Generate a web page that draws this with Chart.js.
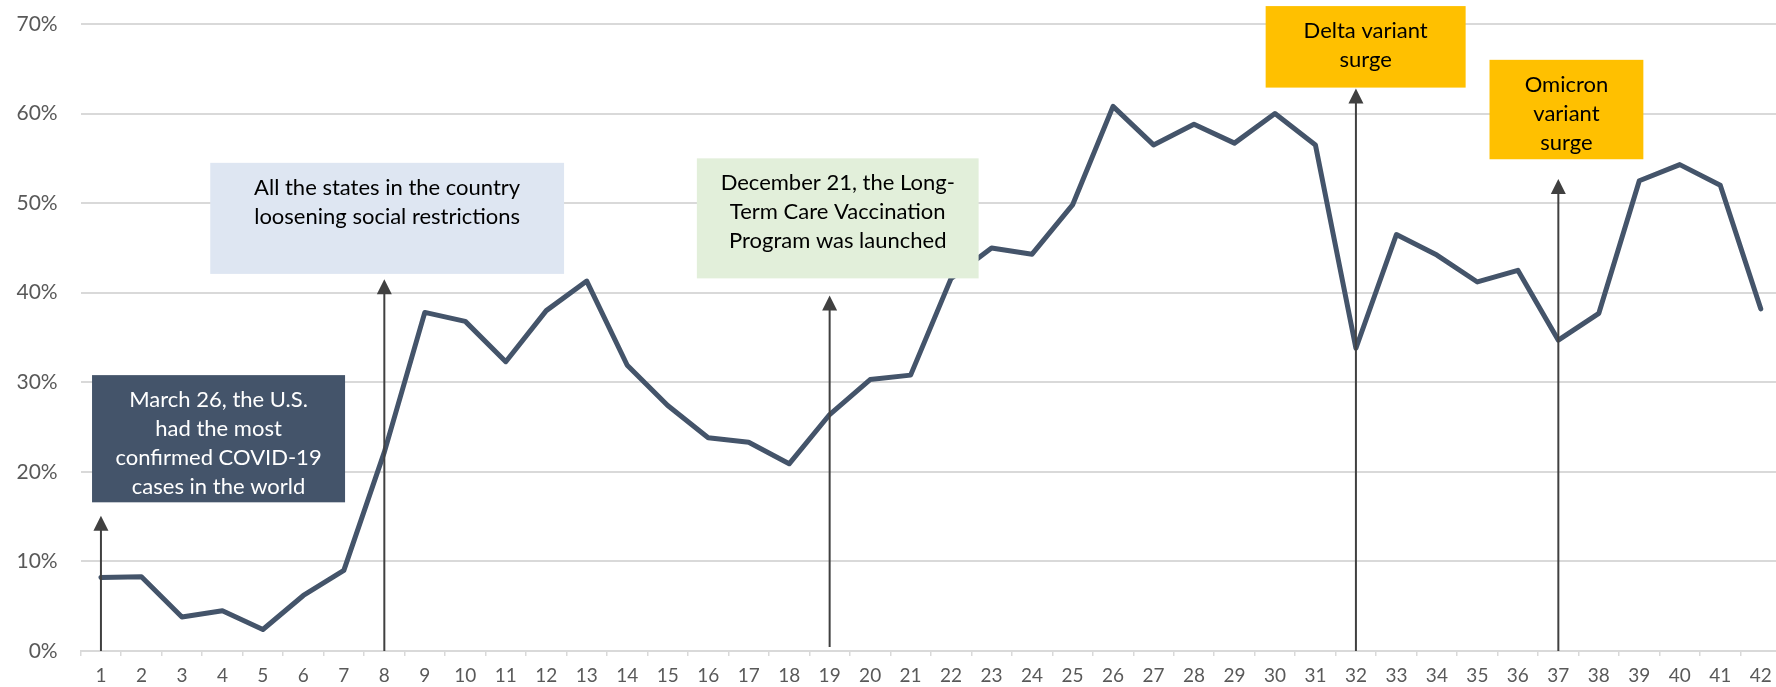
<!DOCTYPE html>
<html>
<head>
<meta charset="utf-8">
<script src="https://cdn.jsdelivr.net/npm/chart.js@4"></script>
<style>
  html, body { margin: 0; padding: 0; background: #fff; overflow: hidden; }
  #wrap { position: relative; width: 1800px; height: 687px; }
</style>
</head>
<body>
<div id="wrap"><canvas id="grafico"></canvas></div>
<script>
// categorias do eixo x
const semanas = ['1','2','3','4','5','6','7','8','9','10','11','12','13','14','15','16','17','18','19','20','21',
  '22','23','24','25','26','27','28','29','30','31','32','33','34','35','36','37','38','39','40','41','42'];

// valores da série (%)
const valores = [8.2, 8.3, 3.8, 4.5, 2.4, 6.2, 9.0, 22.2, 37.8, 36.8, 32.3, 38.0, 41.3, 31.9, 27.4, 23.8, 23.3, 20.9,
  26.4, 30.3, 30.8, 41.6, 45.0, 44.3, 49.8, 60.8, 56.5, 58.8, 56.7, 60.0, 56.5, 33.8, 46.5, 44.2, 41.2, 42.5, 34.7,
  37.7, 52.5, 54.3, 52.0, 38.2];

// ticks do eixo y
const ticksY = [0, 10, 20, 30, 40, 50, 60, 70];

// textos das anotações
const textos = [
  ['March 26, the U.S.', 'had the most', 'confirmed COVID-19', 'cases in the world'],
  ['All the states in the country', 'loosening social restrictions'],
  ['December 21, the Long-', 'Term Care Vaccination', 'Program was launched'],
  ['Delta variant', 'surge'],
  ['Omicron', 'variant', 'surge']
];

// caixas (em unidades dos eixos: índice da categoria e %)
const caixas = [
  { x0: -0.22, x1: 6.03, topo: 30.8, base: 16.6, fundo: '#44546A', cor: '#FFFFFF' },
  { x0: 2.70, x1: 11.44, topo: 54.5, base: 42.1, fundo: '#DEE6F2', cor: '#000000' },
  { x0: 14.72, x1: 21.68, topo: 55.0, base: 41.6, fundo: '#E2EFDA', cor: '#000000' },
  { x0: 28.77, x1: 33.71, topo: 72.0, base: 62.9, fundo: '#FFC000', cor: '#000000' },
  { x0: 34.30, x1: 38.10, topo: 66.0, base: 54.9, fundo: '#FFC000', cor: '#000000' }
];

// setas (índice da categoria, de / até em %)
const setas = [
  { idx: 0, de: 0, ate: 15.1 },
  { idx: 7, de: 0, ate: 41.5 },
  { idx: 18, de: 0.45, ate: 39.7 },
  { idx: 31, de: 0, ate: 62.8 },
  { idx: 36, de: 0, ate: 52.7 }
];

const anotacoes = {
  id: 'anotacoes',
  afterDatasetsDraw(chart) {
    const { ctx, scales: { x, y } } = chart;
    ctx.save();

    // setas
    ctx.strokeStyle = '#404040';
    ctx.fillStyle = '#404040';
    ctx.lineWidth = 2;
    setas.forEach(s => {
      const px = x.getPixelForValue(s.idx);
      const y0 = y.getPixelForValue(s.de);
      const y1 = y.getPixelForValue(s.ate);
      ctx.beginPath();
      ctx.moveTo(px, y0);
      ctx.lineTo(px, y1 + 12);
      ctx.stroke();
      ctx.beginPath();
      ctx.moveTo(px, y1);
      ctx.lineTo(px - 7.5, y1 + 15);
      ctx.lineTo(px + 7.5, y1 + 15);
      ctx.closePath();
      ctx.fill();
    });

    // caixas com texto
    ctx.font = '22px Lato';
    ctx.textAlign = 'center';
    ctx.textBaseline = 'middle';
    caixas.forEach((c, i) => {
      const left = x.getPixelForValue(c.x0);
      const right = x.getPixelForValue(c.x1);
      const top = y.getPixelForValue(c.topo);
      const bottom = y.getPixelForValue(c.base);
      ctx.fillStyle = c.fundo;
      ctx.fillRect(left, top, right - left, bottom - top);
      ctx.fillStyle = c.cor;
      textos[i].forEach((linha, j) => {
        ctx.fillText(linha, (left + right) / 2, top + 25 + j * 29);
      });
    });
    ctx.restore();
  }
};

const ctx = document.getElementById('grafico').getContext('2d');
new Chart(ctx, {
  type: 'line',
  data: {
    labels: semanas,
    datasets: [{
      data: valores,
      borderColor: '#44546A',
      borderWidth: 5,
      pointRadius: 0,
      tension: 0,
      fill: false,
      borderJoinStyle: 'round',
      borderCapStyle: 'round'
    }]
  },
  options: {
    responsive: true,
    maintainAspectRatio: false,
    animation: false,
    layout: { padding: { top: 24, right: 19, left: 0, bottom: 0 } },
    plugins: {
      legend: { display: false },
      tooltip: { enabled: false }
    },
    scales: {
      x: {
        offset: true,
        grid: { offset: true, drawOnChartArea: false, drawTicks: true, tickLength: 5, color: '#D9D9D9', lineWidth: 1.5 },
        border: { color: '#D9D9D9', width: 2 },
        ticks: { color: '#595959', font: { family: 'Lato', size: 19 }, padding: 8, maxRotation: 0, autoSkip: false },
        afterFit: s => { s.height = 36; }
      },
      y: {
        min: 0,
        max: 70,
        afterBuildTicks: s => { s.ticks = ticksY.map(v => ({ value: v })); },
        grid: { color: '#D9D9D9', lineWidth: 2, drawTicks: false },
        border: { display: false },
        ticks: { color: '#595959', font: { family: 'Lato', size: 21 }, padding: 23, callback: v => v + '%' },
        afterFit: s => { s.width = 80.7; s.paddingTop = 0; s.paddingBottom = 0; }
      }
    }
  },
  plugins: [anotacoes]
});
</script>
</body>
</html>
